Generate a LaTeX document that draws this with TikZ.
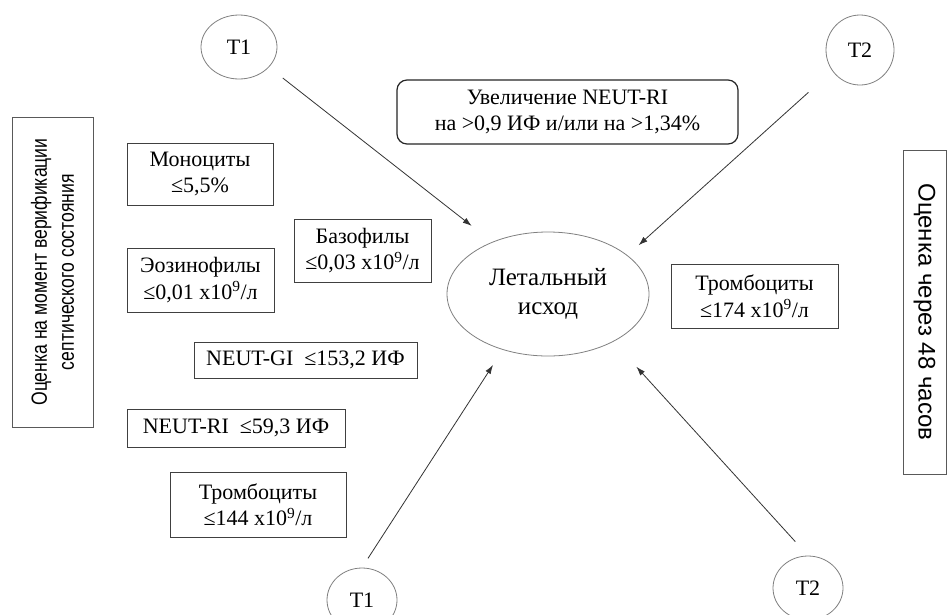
\documentclass[tikz,border=0pt]{standalone}
\usepackage{fontspec}
\setmainfont{Liberation Serif}
\newfontfamily\sansL[FakeStretch=0.8]{Liberation Sans}
\newfontfamily\sansR{Liberation Sans}
\usetikzlibrary{shapes.geometric,arrows.meta}
\begin{document}
\begin{tikzpicture}[x=1pt,y=-1pt,
  txt/.style={font=\fontsize{22}{26.5}\selectfont},
  box/.style={txt,draw=black!75,line width=0.9pt,rectangle,inner sep=0pt,align=center},
  rbox/.style={box,rounded corners=10pt,line width=1.2pt,draw=black!85},
  sidebox/.style={draw=black!65,line width=1pt,rectangle,inner sep=0pt,align=center},
  tnode/.style={txt,draw=black!50,line width=0.8pt,ellipse,inner sep=0pt},
  arr/.style={draw=black!80,line width=0.8pt,-{Latex[length=9pt,width=6pt]}}
]
\useasboundingbox (0,0) rectangle (949,614);
\fill[white] (0,0) rectangle (949,614);

% side boxes
\node[sidebox,rotate=90,minimum width=310,minimum height=81,
  font=\sansL\fontsize{22}{27}\selectfont] (left) at (52.5,272)
  {Оценка на момент верификации\\септического состояния};
\node[sidebox,rotate=-90,minimum width=324,minimum height=43,
  font=\sansR\fontsize{24}{28}\selectfont] (right) at (924.5,312)
  {Оценка через 48 часов};

% parameter boxes
\node[box,minimum width=146,minimum height=62] (mono) at (200,174)
  {Моноциты\\≤5,5\%};
\node[box,minimum width=147,minimum height=64] (eos) at (200.5,280)
  {Эозинофилы\\≤0,01 x10\textsuperscript{9}/л};
\node[box,minimum width=137,minimum height=63] (baso) at (362.5,250.5)
  {Базофилы\\≤0,03 x10\textsuperscript{9}/л};
\node[box,minimum width=223,minimum height=36] (ngi) at (305.5,360)
  {NEUT-GI\enspace≤153,2 ИФ};
\node[box,minimum width=218,minimum height=38] (nri) at (236,428)
  {NEUT-RI\enspace≤59,3 ИФ};
\node[box,minimum width=176,minimum height=65] (trl) at (258,504.5)
  {Тромбоциты\\≤144 x10\textsuperscript{9}/л};
\node[box,minimum width=167,minimum height=64] (trr) at (754.5,296)
  {Тромбоциты\\≤174 x10\textsuperscript{9}/л};
\node[rbox,minimum width=341,minimum height=64] (incr) at (567.5,112)
  {Увеличение NEUT-RI\\на >0,9 ИФ и/или на >1,34\%};

% outcome
\node[tnode,align=center,minimum width=202,minimum height=124,
  font=\fontsize{25}{29}\selectfont] (out) at (548,294)
  {Летальный\\исход};

% time points
\node[tnode,minimum width=76,minimum height=64] (t1a) at (239,47) {T1};
\node[tnode,minimum width=68,minimum height=70] (t2a) at (860,50) {T2};
\node[tnode,minimum width=70,minimum height=64] (t1b) at (362,600) {T1};
\node[tnode,minimum width=70,minimum height=64] (t2b) at (808,588) {T2};

% connectors
\draw[arr,shorten <=17.5pt,shorten >=26pt] (t1a.-34.3) -- (out.137.8);
\draw[arr,shorten <=32pt,shorten >=15pt] (t2a.217.7) -- (out.26.6);
\draw[arr,shorten <=11pt,shorten >=18pt] (t1b.90) -- (out.-129.6);
\draw[arr,shorten <=19pt,shorten >=34pt] (t2b.90) -- (out.-36.5);
\end{tikzpicture}
\end{document}
